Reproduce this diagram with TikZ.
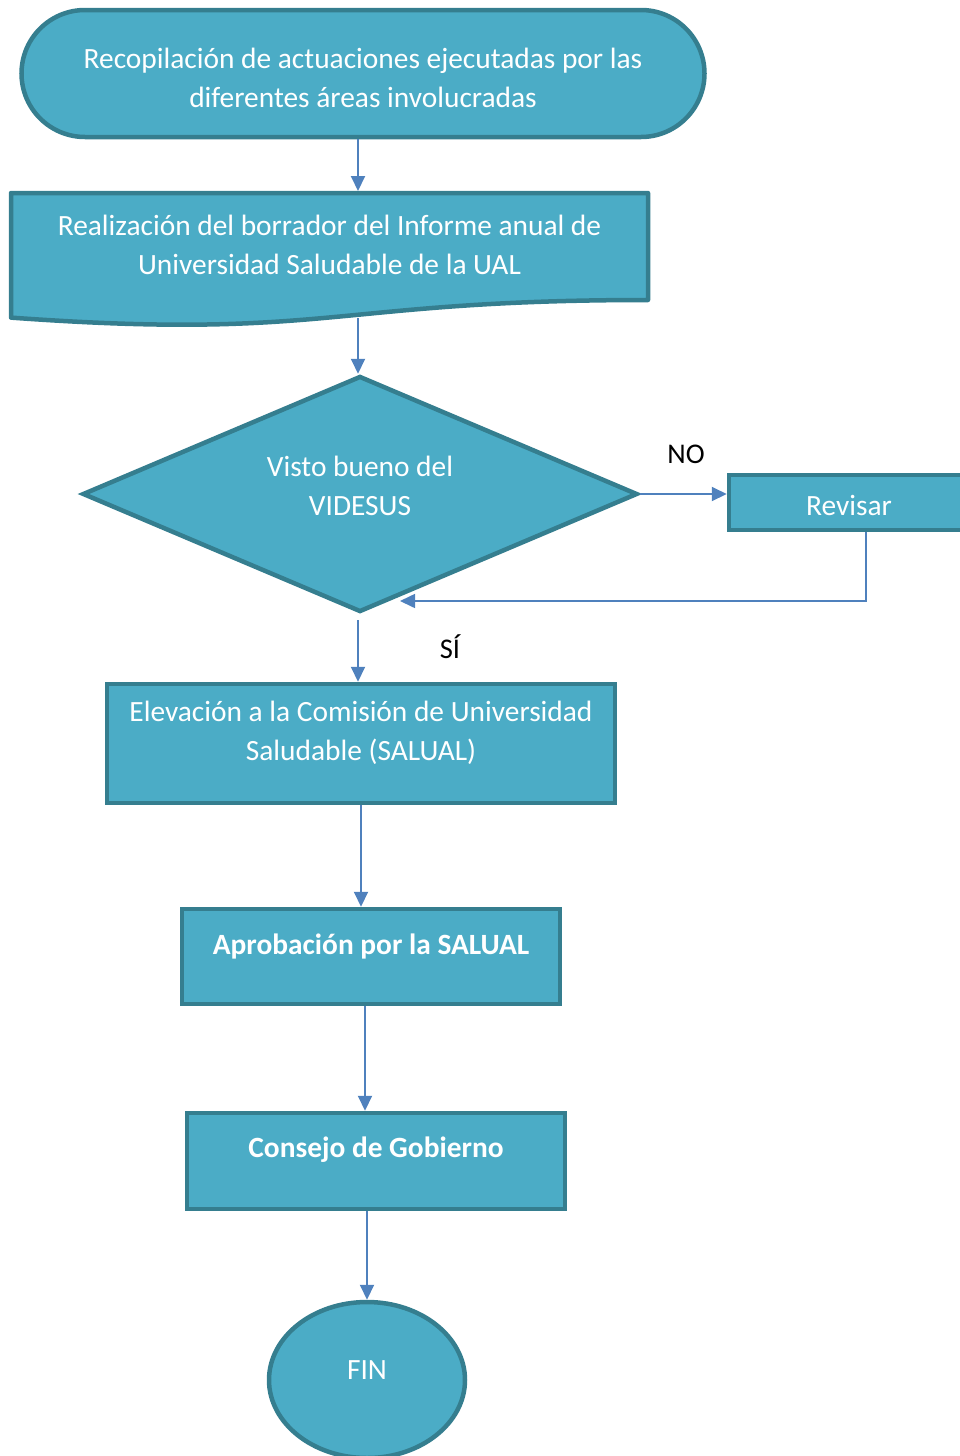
\documentclass[tikz,border=0pt]{standalone}
\usepackage{fontspec}
\setmainfont{Carlito}
\usetikzlibrary{arrows.meta,shapes.geometric,shapes.misc}
\definecolor{fillc}{RGB}{75,172,198}
\definecolor{edgec}{RGB}{53,126,143}
\definecolor{arrc}{RGB}{79,129,189}
\begin{document}
\begin{tikzpicture}[x=1pt,y=-1pt,
  shapebox/.style={draw=edgec,fill=fillc,line width=4.5pt,inner sep=0pt},
  txt/.style={text=white,font=\fontsize{29.4}{38.5}\selectfont,align=center,inner sep=0pt},
  btxt/.style={text=white,font=\fontsize{29.4}{38.5}\selectfont\bfseries,align=center,inner sep=0pt},
  lbl/.style={text=black,font=\fontsize{28.5}{30}\selectfont,inner sep=0pt},
  arr/.style={draw=arrc,line width=2pt,-{Triangle[length=15pt,width=14pt]}},
  ]
\useasboundingbox (0,0) rectangle (959,1456);

% start terminator
\node[shapebox,rounded rectangle,minimum width=683pt,minimum height=127pt] (term) at (363,73.5) {};
\node[txt] (t1) at (363,78) {Recopilación de actuaciones ejecutadas por las\\diferentes áreas involucradas};

% document shape
\filldraw[draw=edgec,fill=fillc,line width=4.5pt,line join=round]
  (11,193) -- (648,193) -- (648,300) .. controls (329.5,300) and (329.5,340.7) .. (11,317.6) -- cycle;
\coordinate (doctop) at (358,191);
\coordinate (docbot) at (358,318);
\node[txt] (t2) at (329.5,245) {Realización del borrador del Informe anual de\\Universidad Saludable de la UAL};

% diamond
\node[shapebox,diamond,minimum width=555pt,minimum height=236pt] (dia) at (360,494) {};
\node[txt] (t3) at (360,486) {Visto bueno del\\VIDESUS};

% Revisar
\node[shapebox,minimum width=240pt,minimum height=55pt] (rev) at (849,502.5) {};
\node[txt] (t4) at (849,505) {Revisar};
\node[lbl] (no) at (686,454) {NO};
\coordinate (back) at (400,601);

% Elevacion
\node[shapebox,minimum width=508pt,minimum height=119pt] (elev) at (361,743.5) {};
\node[txt] (t5) at (361,733) {Elevación a la Comisión de Universidad\\Saludable (SALUAL)};
\node[lbl] (si) at (450,647) {SÍ};

% Aprobacion
\node[shapebox,minimum width=378pt,minimum height=95pt] (apro) at (371,956.5) {};
\node[btxt] (t6) at (371,946) {Aprobación por la SALUAL};

% Consejo
\node[shapebox,minimum width=378pt,minimum height=96pt] (cons) at (376,1161) {};
\node[btxt] (t7) at (376,1150) {Consejo de Gobierno};

% FIN
\node[shapebox,ellipse,minimum width=196pt,minimum height=156pt] (fin) at (367,1380) {};
\node[txt] (t8) at (367,1370) {FIN};

% connectors
\draw[arr] (term.south -| doctop) -- (doctop);
\draw[arr] (docbot) -- (docbot |- dia.north);
\draw[arr] (dia.east) -- (dia.east -| rev.west);
\draw[arr,line width=1.6pt] ([xshift=17pt]rev.south) |- (back);
\draw[arr] ([yshift=-6pt]dia.south -| docbot) -- (docbot |- elev.north);
\draw[arr] (elev.south) -- (elev.south |- apro.north);
\draw[arr] ([xshift=-6pt]apro.south) -- ([xshift=-6pt]apro.south |- cons.north);
\draw[arr] ([xshift=-9pt]cons.south) -- (fin.north);
\end{tikzpicture}
\end{document}
